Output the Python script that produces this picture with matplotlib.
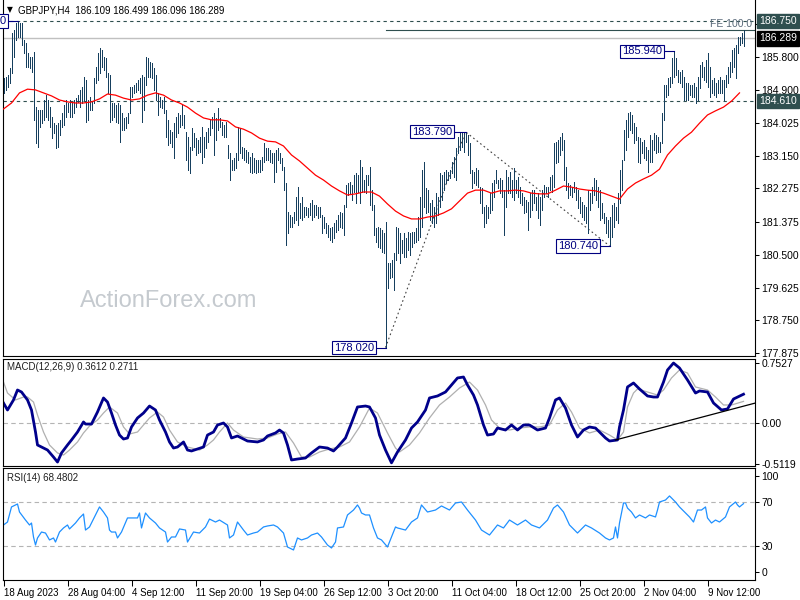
import matplotlib
matplotlib.use("Agg")
import matplotlib.pyplot as plt
from matplotlib.transforms import blended_transform_factory

plt.rcParams['font.family'] = ['Liberation Sans', 'DejaVu Sans']

# ---------------- data ----------------
highs = [
    185.23, 185.26, 185.31, 185.50, 186.43, 186.51, 186.70, 186.75, 186.70, 186.70,
    186.24, 186.16, 185.90, 185.79, 185.79, 185.92, 184.45, 184.37, 184.37, 184.37,
    184.64, 184.77, 184.64, 184.45, 184.19, 184.02, 183.97, 184.02, 184.11, 184.29,
    184.51, 184.64, 184.56, 184.64, 184.56, 184.64, 184.69, 184.77, 184.91, 184.99,
    185.26, 185.17, 184.64, 184.72, 184.59, 185.23, 185.52, 185.90, 186.03, 185.98,
    185.79, 185.76, 185.36, 185.31, 184.56, 184.56, 184.51, 184.56, 184.51, 184.29,
    184.16, 184.19, 184.29, 184.99, 184.99, 185.04, 185.09, 185.17, 185.23, 185.31,
    185.26, 185.79, 185.76, 185.66, 185.63, 185.50, 185.31, 184.83, 184.72, 184.64,
    184.72, 184.37, 184.11, 183.84, 183.78, 184.02, 184.19, 184.29, 184.24, 184.51,
    184.24, 183.78, 183.65, 183.38, 183.89, 183.76, 183.62, 183.57, 183.65, 183.92,
    183.65, 183.78, 183.89, 184.11, 184.19, 184.29, 184.16, 184.43, 184.16, 184.05,
    183.97, 184.05, 183.44, 183.22, 183.04, 183.09, 183.22, 183.92, 183.89, 183.38,
    183.36, 183.30, 183.25, 183.12, 183.22, 183.09, 183.04, 183.04, 183.04, 183.12,
    183.49, 183.36, 183.36, 183.30, 183.22, 183.22, 183.30, 183.36, 183.22, 183.09,
    182.85, 182.42, 181.64, 181.56, 181.51, 181.64, 182.05, 182.31, 181.88, 182.05,
    181.78, 181.78, 181.75, 181.88, 181.97, 181.83, 181.83, 181.78, 181.78, 181.56,
    181.51, 181.35, 181.30, 181.22, 181.24, 181.35, 181.43, 181.56, 181.64, 181.62,
    181.83, 182.37, 182.42, 182.45, 182.37, 182.63, 182.69, 182.63, 183.04, 182.85,
    182.50, 182.63, 182.63, 182.85, 182.23, 181.83, 181.22, 181.24, 181.22, 181.16,
    181.08, 181.38, 180.28, 180.28, 180.36, 180.55, 181.24, 181.22, 181.08, 180.89,
    181.08, 180.95, 181.11, 181.08, 181.11, 181.11, 181.22, 181.51, 182.05, 182.77,
    182.98, 182.29, 182.23, 181.88, 181.97, 181.78, 182.15, 182.05, 182.69, 182.63,
    182.71, 182.77, 182.71, 182.77, 182.98, 183.12, 183.36, 183.65, 183.76, 183.78,
    183.78, 183.79, 183.70, 183.49, 182.77, 182.71, 182.82, 182.77, 182.31, 182.29,
    181.78, 181.83, 181.78, 182.15, 182.42, 182.50, 182.77, 182.50, 182.55, 182.50,
    182.23, 182.77, 182.58, 182.71, 182.50, 182.82, 182.50, 182.58, 182.31, 182.15,
    182.05, 181.97, 181.91, 182.15, 182.23, 182.23, 182.05, 182.15, 182.05, 182.23,
    182.37, 182.31, 182.31, 182.58, 182.63, 183.49, 183.52, 183.57, 183.65, 183.76,
    183.57, 182.85, 182.42, 182.37, 182.31, 182.45, 182.31, 182.23, 182.05, 181.91,
    181.83, 181.78, 182.23, 182.15, 182.31, 182.55, 182.50, 182.31, 182.23, 181.88,
    181.62, 181.51, 181.43, 181.51, 181.83, 181.88, 181.78, 182.15, 182.77, 183.04,
    183.84, 184.11, 184.29, 184.32, 184.24, 184.02, 183.92, 183.65, 183.62, 183.52,
    183.57, 183.38, 183.30, 183.70, 183.57, 183.76, 183.70, 183.65, 183.52, 184.29,
    185.04, 185.04, 185.23, 185.26, 185.76, 185.94, 185.76, 185.44, 185.39, 185.44,
    185.26, 185.09, 185.09, 185.04, 185.04, 185.09, 184.99, 185.26, 185.58, 185.66,
    185.52, 185.71, 185.90, 185.52, 185.17, 185.23, 185.09, 185.17, 185.26, 185.17,
    185.17, 185.31, 185.52, 185.66, 185.98, 186.03, 186.11, 186.32, 186.32, 186.43,
    186.499,
]
lows = [
    184.83, 184.91, 184.99, 185.09, 185.36, 185.79, 186.24, 186.32, 186.32, 186.11,
    185.90, 185.52, 185.52, 185.50, 185.39, 184.11, 183.49, 183.38, 183.92, 184.02,
    184.11, 184.19, 184.11, 183.92, 183.62, 183.76, 183.36, 183.38, 183.70, 183.92,
    183.97, 184.19, 184.32, 184.19, 184.19, 184.29, 184.45, 184.59, 184.45, 184.56,
    184.64, 184.05, 184.11, 184.37, 184.37, 184.56, 185.09, 185.17, 185.36, 185.52,
    185.44, 185.26, 184.83, 184.05, 184.11, 184.19, 184.05, 184.02, 183.52, 183.84,
    183.84, 183.89, 184.02, 184.29, 184.72, 184.83, 184.85, 184.91, 184.83, 184.05,
    184.37, 185.04, 185.26, 185.26, 185.23, 184.91, 184.64, 184.24, 184.45, 184.43,
    184.29, 183.65, 183.44, 183.49, 183.38, 183.09, 183.65, 183.76, 183.92, 183.97,
    183.89, 183.04, 182.77, 182.69, 183.30, 183.38, 183.17, 183.22, 183.25, 182.96,
    183.12, 183.36, 183.52, 183.70, 183.89, 183.17, 183.57, 183.84, 183.92, 183.70,
    183.65, 183.65, 183.09, 182.50, 182.77, 182.77, 182.82, 183.04, 183.22, 183.09,
    183.04, 182.98, 182.96, 182.71, 182.69, 182.71, 182.69, 182.71, 182.71, 182.77,
    182.98, 183.04, 183.04, 182.98, 182.96, 182.45, 182.71, 183.04, 182.96, 182.77,
    182.23, 180.76, 181.08, 181.24, 181.24, 181.35, 181.43, 181.30, 181.48, 181.43,
    181.51, 181.56, 181.51, 181.56, 181.43, 181.51, 181.56, 181.48, 181.51, 181.08,
    181.22, 181.08, 180.97, 180.89, 180.84, 180.95, 181.11, 181.16, 181.24, 181.22,
    181.03, 181.78, 182.10, 182.15, 181.97, 182.18, 181.88, 182.18, 181.88, 182.18,
    182.18, 182.15, 182.37, 181.83, 181.70, 181.03, 180.84, 180.71, 180.68, 180.57,
    180.55, 178.02, 179.61, 179.88, 179.90, 179.56, 180.36, 180.55, 180.28, 180.55,
    180.44, 180.44, 180.63, 180.49, 180.71, 180.81, 180.84, 180.89, 180.97, 181.24,
    181.78, 181.62, 181.64, 181.43, 181.35, 181.24, 181.35, 181.56, 181.78, 181.97,
    182.23, 182.42, 182.50, 182.55, 182.69, 182.58, 182.50, 183.22, 183.30, 183.38,
    183.25, 183.52, 183.17, 182.69, 182.29, 182.42, 182.37, 182.31, 181.88, 181.62,
    181.24, 181.35, 181.48, 181.62, 181.70, 182.05, 182.42, 182.29, 182.15, 182.05,
    181.03, 181.78, 182.15, 182.15, 182.05, 181.97, 182.15, 182.05, 181.88, 181.83,
    181.62, 181.64, 181.16, 181.51, 181.70, 181.88, 181.70, 181.48, 181.30, 181.70,
    182.05, 182.15, 182.05, 182.23, 182.18, 182.31, 182.96, 182.98, 183.17, 183.30,
    182.50, 182.23, 182.02, 182.10, 182.05, 182.18, 181.97, 181.75, 181.62, 181.51,
    181.43, 181.35, 181.08, 181.70, 181.88, 182.10, 181.97, 181.78, 181.43, 181.48,
    181.35, 181.08, 180.97, 180.74, 180.97, 181.24, 181.43, 181.35, 181.88, 182.23,
    183.04, 183.30, 183.65, 183.84, 183.76, 183.49, 183.57, 182.98, 182.96, 183.22,
    183.09, 183.04, 182.71, 182.98, 182.98, 183.30, 183.22, 183.25, 183.25, 183.49,
    184.11, 184.72, 184.77, 184.99, 185.09, 185.26, 185.31, 185.12, 185.09, 184.99,
    184.64, 184.64, 184.64, 184.77, 184.72, 184.72, 184.56, 184.64, 184.96, 185.26,
    185.17, 185.12, 184.99, 184.72, 184.83, 184.77, 184.72, 184.83, 184.83, 184.83,
    184.64, 184.99, 185.09, 185.26, 185.39, 185.52, 185.23, 185.90, 186.11, 186.16,
    186.096,
]

# moving average (red), one reading every 4 bars starting at bar 0
ma_step = 4
ma_vals = [
    184.40, 184.56, 184.83, 184.93, 184.91, 184.83, 184.75, 184.64, 184.59, 184.56,
    184.56, 184.59, 184.67, 184.80, 184.77, 184.69, 184.64, 184.67, 184.77, 184.83,
    184.77, 184.64, 184.56, 184.45, 184.29, 184.16, 184.11, 184.11, 184.08, 183.92,
    183.86, 183.76, 183.62, 183.54, 183.52, 183.41, 183.17, 183.01, 182.82, 182.63,
    182.50, 182.34, 182.21, 182.10, 182.13, 182.18, 182.18, 182.07, 181.86, 181.67,
    181.54, 181.46, 181.46, 181.51, 181.54, 181.62, 181.73, 181.94, 182.15, 182.23,
    182.23, 182.15, 182.21, 182.21, 182.23, 182.21, 182.15, 182.13, 182.13, 182.23,
    182.34, 182.31, 182.26, 182.23, 182.21, 182.15, 182.07, 181.99, 182.26, 182.42,
    182.53, 182.63, 182.79, 183.17, 183.41, 183.62, 183.78, 184.02, 184.24, 184.35,
    184.45, 184.61, 184.83,
]

macd_idx = [
    0, 2, 5, 7, 9, 12, 14, 16, 17, 20, 22, 25, 27, 29, 32, 34, 37, 40, 41, 44,
    47, 50, 52, 54, 56, 58, 60, 62, 64, 67, 70, 73, 76, 78, 81, 83, 85, 87, 90, 92,
    94, 97, 100, 102, 105, 107, 110, 112, 114, 117, 119, 122, 127, 130, 132, 136, 138, 140, 142, 144,
    147, 151, 154, 158, 162, 165, 167, 171, 174, 177, 181, 183, 186, 188, 191, 194, 197, 201, 204, 207,
    211, 213, 217, 221, 224, 227, 230, 232, 235, 237, 240, 242, 245, 247, 251, 254, 257, 260, 263, 267,
    271, 273, 276, 278, 281, 284, 287, 290, 293, 296, 298, 301, 303, 307, 308, 310, 312, 315, 318, 322,
    325, 327, 330, 332, 335, 338, 342, 346, 348, 352, 355, 359, 362, 365, 370,
]
macd_vals = [
    0.251, 0.163, 0.289, 0.414, 0.389, 0.289, 0.163, -0.113, -0.276, -0.314,
    -0.339, -0.427, -0.49, -0.376, -0.276, -0.213, -0.113, 0.013, -0.013, -0.013,
    0.138, 0.314, 0.263, 0.125, -0.025, -0.151, -0.201, -0.188, -0.050, 0.063,
    0.125, 0.213, 0.163, 0.038, -0.113, -0.238, -0.314, -0.301, -0.238, -0.339,
    -0.351, -0.326, -0.301, -0.151, -0.113, -0.025, 0.0, -0.050, -0.188, -0.163,
    -0.188, -0.226, -0.238, -0.213, -0.163, -0.125, -0.088, -0.125, -0.276, -0.464,
    -0.452, -0.439, -0.376, -0.301, -0.314, -0.351, -0.301, -0.188, 0.0, 0.201,
    0.213, 0.201, 0.063, -0.151, -0.339, -0.50, -0.364, -0.213, -0.063, 0.013,
    0.163, 0.314, 0.339, 0.389, 0.477, 0.565, 0.577, 0.477, 0.351, 0.226,
    -0.025, -0.151, -0.138, -0.063, -0.088, -0.025, -0.088, -0.025, -0.025, -0.088,
    -0.063, 0.063, 0.289, 0.314, 0.188, -0.025, -0.176, -0.088, -0.050, -0.063,
    -0.113, -0.188, -0.226, -0.213, -0.050, 0.163, 0.452, 0.502, 0.427, 0.339,
    0.326, 0.326, 0.514, 0.665, 0.7527, 0.690, 0.540, 0.376, 0.402, 0.389,
    0.251, 0.163, 0.176, 0.301, 0.3612,
]
signal_idx = [
    0, 2, 6, 10, 12, 15, 17, 20, 23, 27, 30, 33, 37, 40, 43, 47, 50, 53, 57, 60,
    63, 67, 70, 73, 77, 80, 83, 87, 92, 98, 102, 105, 108, 112, 115, 120, 127, 132, 137, 141,
    145, 149, 153, 158, 163, 168, 173, 178, 183, 187, 192, 196, 198, 203, 208, 213, 218, 223, 228, 233,
    237, 241, 244, 248, 253, 258, 263, 268, 273, 277, 281, 284, 288, 293, 298, 303, 307, 310, 312, 315,
    317, 322, 327, 330, 334, 338, 342, 346, 352, 356, 360, 364, 370,
]
signal_vals = [
    0.514, 0.376, 0.289, 0.326, 0.326, 0.263, 0.100, -0.113, -0.276, -0.376,
    -0.402, -0.339, -0.238, -0.125, -0.038, 0.038, 0.125, 0.201, 0.125, -0.050,
    -0.138, -0.113, -0.025, 0.063, 0.138, 0.075, -0.088, -0.238, -0.301, -0.339,
    -0.276, -0.213, -0.113, 0.0, -0.088, -0.176, -0.201, -0.188, -0.138, -0.113,
    -0.251, -0.427, -0.427, -0.364, -0.326, -0.301, -0.238, -0.050, 0.188, 0.125,
    -0.125, -0.314, -0.364, -0.276, -0.125, 0.063, 0.226, 0.326, 0.439, 0.514,
    0.414, 0.226, 0.038, -0.063, -0.088, -0.063, -0.050, -0.050, -0.025, 0.163,
    0.251, 0.138, -0.063, -0.125, -0.088, -0.151, -0.213, -0.113, 0.201, 0.376,
    0.427, 0.389, 0.351, 0.414, 0.565, 0.665, 0.627, 0.452, 0.414, 0.326,
    0.226, 0.226, 0.2711,
]
trend_idx = [306, 376]
trend_vals = [-0.213, 0.251]

rsi_idx = [
    0, 2, 4, 7, 8, 11, 13, 14, 15, 16, 17, 19, 21, 23, 25, 26, 28, 30, 32, 33,
    36, 38, 40, 41, 43, 46, 48, 50, 52, 53, 54, 56, 57, 59, 62, 64, 67, 68, 69, 71,
    73, 76, 78, 81, 82, 84, 86, 88, 91, 92, 95, 98, 101, 103, 106, 108, 112, 113, 115, 117,
    120, 122, 125, 127, 130, 132, 135, 137, 140, 142, 145, 147, 149, 152, 154, 157, 159, 162, 164, 166,
    167, 170, 172, 175, 177, 178, 179, 181, 183, 185, 187, 189, 192, 193, 196, 197, 201, 204, 207, 209,
    212, 216, 219, 223, 226, 229, 232, 236, 239, 243, 247, 250, 253, 257, 261, 264, 268, 272, 275, 277,
    280, 283, 287, 291, 294, 298, 301, 303, 305, 306, 307, 308, 310, 311, 312, 314, 316, 318, 321, 323,
    326, 327, 328, 331, 333, 336, 338, 341, 343, 345, 347, 349, 351, 352, 354, 356, 358, 361, 363, 366,
    367, 368, 370,
]
rsi_vals = [
    49.1, 51.8, 65.5, 68.2, 60.9, 53.6, 49.1, 50.9, 38.2, 30.9, 37.3, 42.7, 41.8, 35.5, 37.3, 33.6, 42.7, 46.4, 49.1, 45.5,
    50.9, 55.5, 59.1, 44.5, 47.3, 58.2, 65.5, 60.9, 55.5, 44.5, 42.7, 42.7, 37.3, 42.7, 55.5, 55.5, 55.5, 60.0, 46.4, 60.0,
    55.5, 50.9, 46.4, 42.7, 33.6, 38.2, 38.2, 45.5, 44.5, 33.6, 42.7, 41.8, 47.3, 54.5, 51.8, 53.6, 49.1, 37.3, 40.0, 51.8,
    44.5, 40.0, 41.8, 42.7, 47.3, 48.2, 49.1, 47.3, 41.8, 29.1, 26.4, 37.3, 35.5, 37.3, 40.0, 41.8, 38.2, 30.9, 28.2, 33.6,
    46.4, 47.3, 58.2, 62.7, 67.3, 64.5, 60.0, 58.2, 58.2, 46.4, 37.3, 35.5, 29.1, 33.6, 47.3, 46.4, 44.5, 51.8, 55.5, 67.3,
    60.9, 62.7, 66.4, 62.7, 69.1, 70.0, 62.7, 53.6, 44.5, 40.0, 49.1, 46.4, 53.6, 49.1, 53.6, 49.1, 46.4, 53.6, 64.5, 67.3,
    60.9, 49.1, 41.8, 49.1, 46.4, 41.8, 37.3, 35.5, 37.3, 47.3, 37.3, 50.9, 69.1, 69.1, 64.5, 60.9, 55.5, 58.2, 55.5, 58.2,
    56.4, 62.7, 70.0, 71.8, 75.5, 70.0, 65.5, 60.0, 56.4, 51.8, 62.7, 62.7, 65.5, 55.5, 50.9, 53.6, 51.8, 56.4, 65.5, 70.0,
    67.3, 65.5, 68.48,
]

time_labels = ['18 Aug 2023', '28 Aug 04:00', '4 Sep 12:00', '11 Sep 20:00', '19 Sep 04:00',
               '26 Sep 12:00', '3 Oct 20:00', '11 Oct 04:00', '18 Oct 12:00', '25 Oct 20:00',
               '2 Nov 04:00', '9 Nov 12:00']
time_tick_step = 32
price_ticks = [186.675, 185.800, 184.900, 184.025, 183.150, 182.275, 181.375, 180.500,
               179.625, 178.750, 177.875]
# swing points: (bar index, price, connector length in bars)
swing_points = [(7, 186.75, 5), (191, 178.02, 5), (231, 183.79, 6), (303, 180.74, 5), (335, 185.94, 5)]
fe_path_idx = [191, 231, 303]
fe_path_vals = [178.02, 183.79, 180.74]
fe_level = 186.51
fe_start = 191
resist_level = 186.750
support_level = 184.610
last_open, last_high, last_low, last_close = 186.109, 186.499, 186.096, 186.289
macd_last, signal_last = 0.3612, 0.2711
rsi_last = 68.4802

assert len(highs) == len(lows)
assert len(macd_idx) == len(macd_vals)
assert len(signal_idx) == len(signal_vals)
assert len(rsi_idx) == len(rsi_vals)

# ---------------- figure ----------------
W, H = 800, 600
fig = plt.figure(figsize=(8, 6), dpi=100)
fig.patch.set_facecolor('white')


def ax_px(left, top, right, bottom):
    return fig.add_axes([left / W, 1 - bottom / H, (right - left) / W, (bottom - top) / H])


main = ax_px(2.5, 0, 754.5, 356)
macd_ax = ax_px(2.5, 359, 754.5, 466)
rsi_ax = ax_px(2.5, 468, 754.5, 580)

XMIN, XMAX = -0.5, 375.5
for a in (main, macd_ax, rsi_ax):
    a.set_xlim(XMIN, XMAX)
    a.set_facecolor('white')
    for s in a.spines.values():
        s.set_color('black')
        s.set_linewidth(0.8)
    a.tick_params(axis='x', which='both', bottom=False, labelbottom=False)
    a.yaxis.tick_right()
    a.tick_params(axis='y', direction='out', length=3, width=0.75, pad=2,
                  labelsize=7.5, colors='black')
main.spines['top'].set_visible(False)

BAR = '#163f5e'
NAVY = '#000080'
SLATE = '#2f4f4f'

# --- main price panel ---
main.set_ylim(177.795, 187.314)
n = len(highs)
idx = list(range(n))
main.vlines(idx, lows, highs, colors=BAR, linewidth=0.5, antialiased=False, zorder=3)
ma_idx = list(range(0, ma_step * len(ma_vals), ma_step))
main.plot(ma_idx, ma_vals, color='#ff0000', lw=0.9, zorder=4)

main.axhline(resist_level, color=SLATE, lw=0.8, ls=(0, (3, 3)), zorder=2)
main.axhline(support_level, color=SLATE, lw=0.8, ls=(0, (3, 3)), zorder=2)
main.axhline(last_close, color='#c0c0c0', lw=1.0, zorder=1)
main.plot([fe_start, XMAX], [fe_level, fe_level], color=SLATE, lw=0.8, zorder=2)
main.text(XMAX - 1.0, fe_level + 0.03, 'FE 100.0', ha='right', va='bottom',
          fontsize=7.5, color='#5a6a7a', zorder=5)
main.plot(fe_path_idx, fe_path_vals, color='#404040', lw=0.8, ls=(0, (1.5, 2.5)), zorder=2)

for bi, pr, gap in swing_points:
    main.plot([bi - gap, bi], [pr, pr], color=NAVY, lw=0.8, zorder=5, clip_on=False)
    main.text(bi - gap - 0.8, pr, f'{pr:.3f}', ha='right', va='center', fontsize=8,
              color=NAVY, zorder=6,
              bbox=dict(boxstyle='square,pad=0.15', fc='white', ec=NAVY, lw=0.8))

main.set_yticks(price_ticks)
main.set_yticklabels([f'{p:.3f}' for p in price_ticks])

trans = blended_transform_factory(main.transAxes, main.transData)
for val, fc in ((resist_level, SLATE), (last_close, 'black'), (support_level, SLATE)):
    main.text(1.006, val, f'{val:.3f}', transform=trans, ha='left', va='center',
              fontsize=7.5, color='white', zorder=10, clip_on=False,
              bbox=dict(boxstyle='square,pad=0.22', fc=fc, ec=fc))

# watermark and title
main.text(80 / W, 1 - 301 / H, 'ActionForex.com', transform=fig.transFigure,
          fontsize=17, color='#c5cacf', ha='left', va='center', zorder=0)
fig.text(7 / W, 1 - 10 / H, '\u25BC', fontsize=5.5, ha='left', va='center',
         family=['DejaVu Sans'])
fig.text(18 / W, 1 - 10.5 / H,
         f'GBPJPY,H4  {last_open:.3f} {last_high:.3f} {last_low:.3f} {last_close:.3f}',
         fontsize=7, ha='left', va='center', color='black')

# --- MACD panel ---
macd_ax.set_ylim(-0.5395, 0.803)
macd_ax.axhline(0, color='#b4b4b4', lw=0.8, ls=(0, (4, 3)))
macd_ax.plot(signal_idx, signal_vals, color='#b0b0b0', lw=0.9)
macd_ax.plot(macd_idx, macd_vals, color='#00008b', lw=2.0)
macd_ax.plot(trend_idx, trend_vals, color='black', lw=0.9)
macd_ax.set_yticks([0.7527, 0.0, -0.5119])
macd_ax.set_yticklabels(['0.7527', '0.00', '-0.5119'])
fig.text(7 / W, 1 - 367 / H, f'MACD(12,26,9) {macd_last:.4f} {signal_last:.4f}',
         fontsize=7, ha='left', va='center', color='#202020')

# --- RSI panel ---
rsi_ax.set_ylim(-0.9, 100.9)
rsi_ax.axhline(70, color='#b4b4b4', lw=0.8, ls=(0, (4, 3)))
rsi_ax.axhline(30, color='#b4b4b4', lw=0.8, ls=(0, (4, 3)))
rsi_ax.plot(rsi_idx, rsi_vals, color='#1e90ff', lw=0.9)
rsi_ax.set_yticks([93.6, 70, 30, 6.4])
rsi_ax.set_yticklabels(['100', '70', '30', '0'])
fig.text(7 / W, 1 - 478 / H, f'RSI(14) {rsi_last:.4f}', fontsize=7, ha='left',
         va='center', color='#202020')

tick_idx = [k * time_tick_step for k in range(len(time_labels))]
rsi_ax.set_xticks(tick_idx)
rsi_ax.set_xticklabels(time_labels)
rsi_ax.tick_params(axis='x', bottom=True, labelbottom=True, direction='out', length=4,
                   width=0.75, labelsize=7, pad=2)
for lbl in rsi_ax.get_xticklabels():
    lbl.set_horizontalalignment('left')

fig.savefig('out.png', dpi=100)
